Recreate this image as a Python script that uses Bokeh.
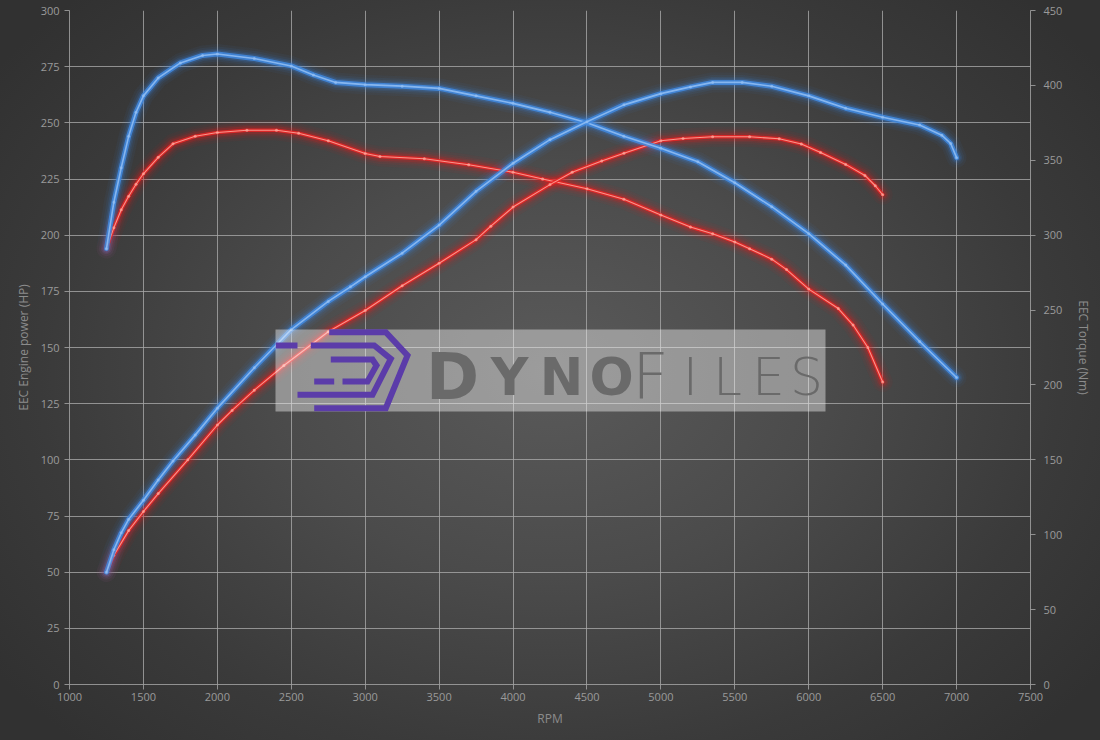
from bokeh.plotting import figure
from bokeh.models import Range1d, LinearAxis, SingleIntervalTicker, InlineStyleSheet
from bokeh.core.properties import value
from bokeh.embed import file_html
from bokeh.resources import INLINE

# ---- dyno data ----
# Power (HP), stock vs tuned
rpm_pw_stock = [1250, 1300, 1400, 1500, 1600, 1800, 2000, 2100, 2250, 2450, 2750, 3000, 3250,
                3500, 3750, 3850, 4000, 4250, 4400, 4600, 4750, 5000, 5150, 5350, 5600, 5800,
                5950, 6080, 6250, 6380, 6450, 6500]
hp_stock = [50, 57.5, 68.5, 77, 85, 100, 115.5, 122, 131, 142, 157, 166.5, 177.5,
            187.5, 198, 204, 212.5, 222.5, 228, 233, 236.5, 242, 243, 243.8, 243.8, 242.9,
            240.6, 236.8, 231.5, 226.6, 222, 218]

rpm_pw_tuned = [1250, 1300, 1350, 1400, 1500, 1600, 1700, 1850, 2000, 2250, 2500, 2750, 2900,
                3000, 3250, 3500, 3750, 4000, 4250, 4500, 4750, 5000, 5200, 5350, 5550, 5750,
                6000, 6250, 6500, 6750, 6900, 6960, 7000]
hp_tuned = [50, 60, 67.5, 73.5, 82, 91, 99.5, 111, 123, 141, 158, 170.5, 177,
            181.5, 192, 204.5, 219.5, 232, 242.5, 250.5, 258, 263, 266, 268, 268, 266.3,
            262, 256.5, 252.5, 249, 244.5, 240.8, 234.5]

# Torque (Nm), stock vs tuned
rpm_tq_stock = [1250, 1300, 1350, 1400, 1450, 1500, 1600, 1700, 1850, 2000, 2200, 2400, 2550,
                2750, 3000, 3100, 3400, 3700, 4000, 4200, 4500, 4750, 5000, 5200, 5350, 5500,
                5600, 5750, 5850, 6000, 6200, 6300, 6400, 6500]
nm_stock = [291, 305, 317, 326, 334, 341, 352, 361, 366, 368.5, 370, 370, 368,
            363, 354.5, 352.5, 351, 347, 342, 337.5, 331, 324, 313.5, 305.5, 301, 295.5,
            291, 284, 277, 264, 251, 240, 225, 202]

rpm_tq_tuned = [1250, 1300, 1350, 1400, 1450, 1500, 1600, 1750, 1900, 2000, 2250, 2500, 2650,
                2800, 3000, 3250, 3500, 3750, 4000, 4250, 4500, 4750, 5000, 5250, 5500, 5750,
                6000, 6250, 6500, 6750, 7000]
nm_tuned = [291, 322, 345, 366, 382, 393, 405, 415, 420, 421, 418, 413, 407,
            402, 400.5, 399.5, 398, 393, 388, 382, 375, 366, 358, 349, 335, 319,
            301, 280, 254, 229, 205]

x_ticks_step, hp_ticks_step, nm_ticks_step = 500, 25, 50

# ---- styling ----
FONT = "Open Sans"
GRID = "#a8a8a8"
LABEL = "#9a9a9a"
RED = dict(halo="#f01818", band="#ea2626", core="#ffa89c", band_w=3.6, core_w=1.1)
BLUE = dict(halo="#3b8af0", band="#4189e0", core="#93bff4", band_w=5.0, core_w=1.6)

p = figure(frame_width=961, frame_height=674,
           x_range=Range1d(1000, 7500), y_range=Range1d(0, 300),
           output_backend="svg", toolbar_location=None,
           min_border_left=69, min_border_right=70, min_border_top=10, min_border_bottom=56,
           background_fill_color=None, border_fill_color=None, outline_line_color=None)

p.stylesheets = [InlineStyleSheet(css=(
    ":host { background: radial-gradient(ellipse 62% 70% at 50% 50%, "
    "#5a5a5a 0%, #4b4b4b 40%, #3a3a3a 75%, #313131 100%); }"))]

p.extra_y_ranges = {"torque": Range1d(0, 450)}


def style_axis(ax, label):
    ax.axis_label = label
    ax.axis_label_text_font = FONT
    ax.axis_label_text_font_size = "12px"
    ax.axis_label_text_font_style = "normal"
    ax.axis_label_text_color = "#8c8c8c"
    ax.major_label_text_font = FONT
    ax.major_label_text_font_size = "11px"
    ax.major_label_text_color = LABEL
    ax.axis_line_color = GRID
    ax.axis_line_alpha = 0.8
    ax.major_tick_line_color = GRID
    ax.major_tick_line_alpha = 0.8
    ax.major_tick_in = 0
    ax.major_tick_out = 5
    ax.minor_tick_line_color = None


p.xaxis.ticker = SingleIntervalTicker(interval=x_ticks_step)
p.yaxis.ticker = SingleIntervalTicker(interval=hp_ticks_step)
style_axis(p.xaxis[0], "RPM")
style_axis(p.yaxis[0], "EEC Engine power (HP)")
p.xaxis.major_label_standoff = 3
p.xaxis.axis_label_standoff = 6
p.yaxis.major_label_standoff = 5
p.yaxis.axis_label_standoff = 6

tq_axis = LinearAxis(y_range_name="torque", ticker=SingleIntervalTicker(interval=nm_ticks_step))
style_axis(tq_axis, "EEC Torque (Nm)")
tq_axis.major_label_standoff = 8
tq_axis.axis_label_standoff = 10
p.add_layout(tq_axis, "right")

p.grid.grid_line_color = GRID
p.grid.grid_line_alpha = 0.8
p.xgrid.ticker = SingleIntervalTicker(interval=x_ticks_step)
p.ygrid.ticker = SingleIntervalTicker(interval=hp_ticks_step)

curves = [
    (rpm_tq_stock, nm_stock, "torque", RED),
    (rpm_pw_stock, hp_stock, "default", RED),
    (rpm_tq_tuned, nm_tuned, "torque", BLUE),
    (rpm_pw_tuned, hp_tuned, "default", BLUE),
]

# soft glow first, then the bright bands and cores on top
glow_layers = [(20, 0.05), (15, 0.07), (11, 0.11), (8, 0.18)]
for xs, ys, rng, c in curves:
    for w, a in glow_layers:
        p.line(xs, ys, y_range_name=rng, line_color=c["halo"], line_width=w, line_alpha=a,
               line_join="round", line_cap="round")
for xs, ys, rng, c in curves:
    p.line(xs, ys, y_range_name=rng, line_color=c["band"], line_width=c["band_w"],
           line_alpha=0.85, line_join="round", line_cap="round")
    p.line(xs, ys, y_range_name=rng, line_color=c["core"], line_width=c["core_w"],
           line_alpha=0.85, line_join="round", line_cap="round")
    p.scatter(xs, ys, y_range_name=rng, size=3, fill_color=c["core"], line_color=None,
              fill_alpha=0.7)


# ---- DynoFiles watermark (placed in frame pixels, mapped onto the data axes) ----
def rx(px):
    return 1000 + (px - 69) * 6500 / 961


def ry(py):
    return (684 - py) * 300 / 674


p.quad(left=rx(275), right=rx(825), top=ry(329), bottom=ry(411),
       fill_color="white", fill_alpha=0.4, line_color=None)

logo_paths = [
    [(328.7, 331.7), (385.3, 331.7), (407, 355), (385.3, 407.7), (313.7, 407.7)],
    [(310.3, 345), (373.7, 345), (390.3, 358.3), (372, 394.3), (297, 394.3)],
    [(330.3, 359), (372, 359), (376, 365), (367, 381), (342, 381)],
    [(275.3, 345), (297, 345)],
    [(313.7, 381), (333.7, 381)],
]
p.multi_line(xs=[[rx(x) for x, _ in path] for path in logo_paths],
             ys=[[ry(y) for _, y in path] for path in logo_paths],
             line_color="#5b3ca9", line_width=6, line_join="miter", line_cap="butt")

letters = ["D", "Y", "N", "O", "F", "I", "L", "E", "S"]
letter_x = [452, 509, 561, 611, 650, 690, 727, 768, 806]
letter_size = ["64px", "52px", "52px", "52px", "64px", "52px", "52px", "52px", "52px"]
letter_style = ["bold"] * 4 + ["normal"] * 5
letter_font = ["DejaVu Sans"] * 4 + ["DejaVu Sans Light"] * 5
for ch, lx, fs, st, fn in zip(letters, letter_x, letter_size, letter_style, letter_font):
    p.text(x=[rx(lx)], y=[ry(376)], text=[ch], text_font=value(fn),
           text_font_size=fs, text_font_style=st, text_color="#6a6a6a",
           text_align="center", text_baseline="alphabetic")

open("out.html", "w").write(file_html(p, INLINE))
